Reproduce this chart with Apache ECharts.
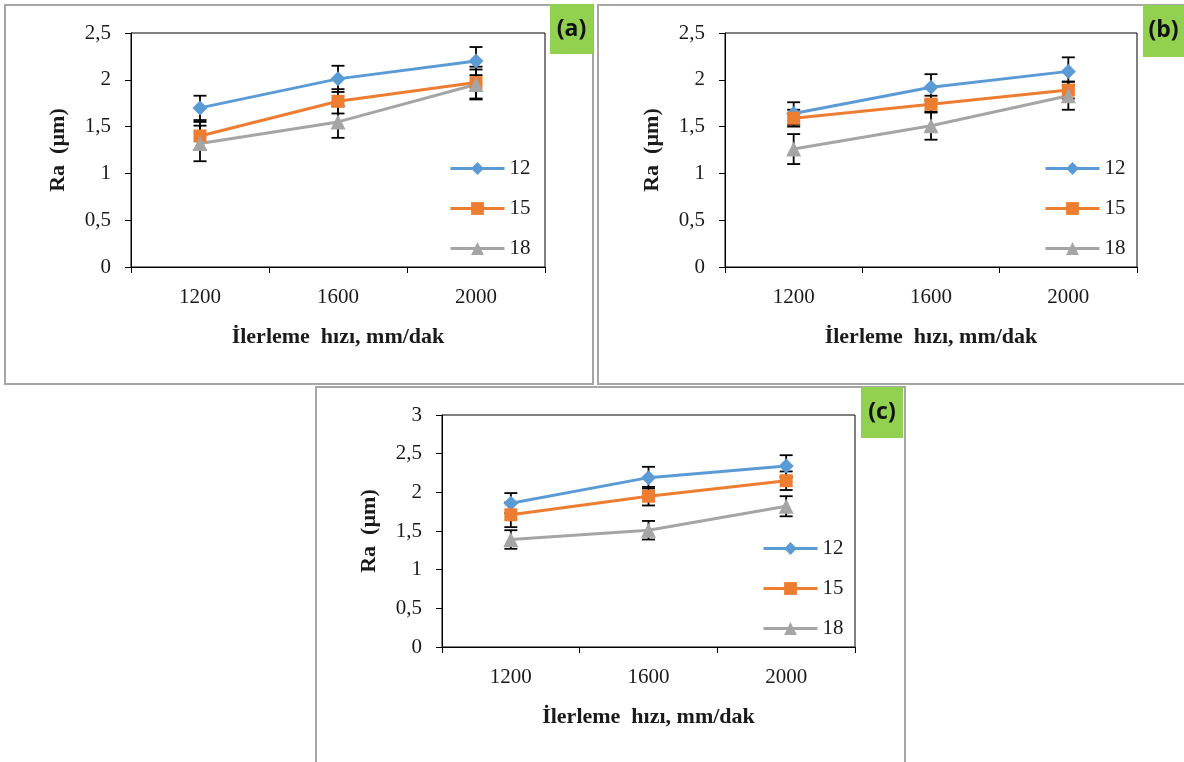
<!DOCTYPE html>
<html>
<head>
<meta charset="utf-8">
<script src="https://cdn.jsdelivr.net/npm/echarts@6/dist/echarts.min.js"></script>
<style>
html,body{margin:0;padding:0;background:#fff;}
#c{width:1184px;height:762px;}
</style>
</head>
<body>
<div id="c"></div>
<script>
// ---- data ----
const categories = ['1200', '1600', '2000'];
const seriesNames = ['12', '15', '18'];
const panelLabels = ['(a)', '(b)', '(c)'];
const yAxisTitle = 'Ra  (µm)';
const xAxisTitle = 'İlerleme  hızı, mm/dak';

// panel (a)
const a12 = [1.70, 2.01, 2.20];
const a15 = [1.40, 1.77, 1.97];
const a18 = [1.32, 1.55, 1.95];
const aErr12 = [0.13, 0.14, 0.15];
const aErr15 = [0.15, 0.13, 0.17];
const aErr18 = [0.19, 0.17, 0.16];
// panel (b)
const b12 = [1.64, 1.92, 2.09];
const b15 = [1.59, 1.74, 1.89];
const b18 = [1.26, 1.51, 1.83];
const bErr12 = [0.12, 0.14, 0.15];
const bErr15 = [0.09, 0.09, 0.09];
const bErr18 = [0.16, 0.15, 0.15];
// panel (c)
const c12 = [1.86, 2.19, 2.34];
const c15 = [1.71, 1.95, 2.15];
const c18 = [1.39, 1.51, 1.82];
const cErr12 = [0.13, 0.14, 0.14];
const cErr15 = [0.16, 0.12, 0.12];
const cErr18 = [0.12, 0.12, 0.13];
// y axis ranges
const yMaxAB = 2.5;
const yMaxC = 3;
const yStep = 0.5;

// ---- layout / style ----
const colors = ['#5B9BD5', '#ED7D31', '#A5A5A5'];
const symbols = ['diamond', 'rect', 'triangle'];
const symbolSizes = [15, 13, 15];
const serif = '"Liberation Serif", "Times New Roman", serif';
const textColor = '#1a1a1a';

const panels = [
  {vals: [a12, a15, a18], errs: [aErr12, aErr15, aErr18], yMax: yMaxAB,
   grid: {left: 131, top: 33, width: 414, height: 234},
   legend: {left: 444, top: 153},
   border: {x: 5, y: 5, w: 588, h: 379},
   tag: {x: 550, y: 4, w: 43, h: 50}},
  {vals: [b12, b15, b18], errs: [bErr12, bErr15, bErr18], yMax: yMaxAB,
   grid: {left: 725, top: 33, width: 412, height: 234},
   legend: {left: 1039, top: 153},
   border: {x: 598, y: 5, w: 590, h: 379},
   tag: {x: 1143, y: 5, w: 41, h: 52}},
  {vals: [c12, c15, c18], errs: [cErr12, cErr15, cErr18], yMax: yMaxC,
   grid: {left: 442, top: 415, width: 413, height: 232},
   legend: {left: 757, top: 533},
   border: {x: 316, y: 387, w: 589, h: 380},
   tag: {x: 861, y: 387, w: 42, h: 51}}
];

const grids = [], xAxes = [], yAxes = [], series = [], legends = [], graphics = [];

panels.forEach((p, pi) => {
  graphics.push({
    type: 'rect', z: -10,
    shape: {x: p.border.x, y: p.border.y, width: p.border.w, height: p.border.h},
    style: {fill: '#fff', stroke: '#a6a6a6', lineWidth: 2}
  });
  graphics.push({
    type: 'rect', z: 10,
    shape: {x: p.tag.x, y: p.tag.y, width: p.tag.w, height: p.tag.h},
    style: {fill: '#92D050'}
  });
  graphics.push({
    type: 'text', z: 11,
    x: p.tag.x + p.tag.w / 2, y: p.tag.y + 25,
    style: {text: panelLabels[pi], fill: '#111', font: 'bold 23px "Open Sans", "Liberation Sans", sans-serif',
            textAlign: 'center', textVerticalAlign: 'middle'}
  });

  grids.push(Object.assign({show: true, borderColor: '#000', borderWidth: 1, backgroundColor: 'transparent'}, p.grid));
  xAxes.push({
    type: 'category', gridIndex: pi, data: categories, boundaryGap: true,
    axisLine: {lineStyle: {color: '#000', width: 1}},
    axisTick: {show: true, length: 6, lineStyle: {color: '#000'}},
    axisLabel: {color: textColor, fontFamily: serif, fontSize: 21, margin: 20},
    name: xAxisTitle, nameLocation: 'middle', nameGap: 59,
    nameTextStyle: {color: textColor, fontFamily: serif, fontSize: 22, fontWeight: 'bold'},
    splitLine: {show: false}
  });
  yAxes.push({
    type: 'value', gridIndex: pi, min: 0, max: p.yMax, interval: yStep,
    axisLine: {show: true, lineStyle: {color: '#000', width: 1}},
    axisTick: {show: true, length: 6, lineStyle: {color: '#000'}},
    axisLabel: {color: textColor, fontFamily: serif, fontSize: 21, margin: 20,
                formatter: v => String(v).replace('.', ',')},
    name: yAxisTitle, nameLocation: 'middle', nameGap: 62, nameRotate: 90,
    nameTextStyle: {color: textColor, fontFamily: serif, fontSize: 22, fontWeight: 'bold'},
    splitLine: {show: false}
  });
  legends.push({
    orient: 'vertical', left: p.legend.left, top: p.legend.top,
    data: seriesNames, itemWidth: 54, itemHeight: 16, itemGap: 19,
    lineStyle: {width: 3},
    textStyle: {color: textColor, fontFamily: serif, fontSize: 21},
    selectedMode: false
  });

  seriesNames.forEach((nm, si) => {
    const vals = p.vals[si], errs = p.errs[si];
    series.push({
      type: 'custom', name: nm + '-err', xAxisIndex: pi, yAxisIndex: pi, z: 2, silent: true,
      data: vals.map((v, i) => [i, v, errs[i]]),
      renderItem: (params, api) => {
        const x = api.value(0), y = api.value(1), e = api.value(2);
        const t = api.coord([x, y + e]), b = api.coord([x, y - e]);
        const cap = 6.5;
        const st = {stroke: '#000', lineWidth: 1.8};
        return {type: 'group', children: [
          {type: 'line', shape: {x1: t[0], y1: t[1], x2: b[0], y2: b[1]}, style: st},
          {type: 'line', shape: {x1: t[0] - cap, y1: t[1], x2: t[0] + cap, y2: t[1]}, style: st},
          {type: 'line', shape: {x1: b[0] - cap, y1: b[1], x2: b[0] + cap, y2: b[1]}, style: st}
        ]};
      }
    });
    series.push({
      type: 'line', name: nm, xAxisIndex: pi, yAxisIndex: pi, z: 3,
      data: vals, symbol: symbols[si], symbolSize: symbolSizes[si],
      showAllSymbol: true, animation: false,
      lineStyle: {color: colors[si], width: 3},
      itemStyle: {color: colors[si], borderWidth: 0}
    });
  });
});

const chart = echarts.init(document.getElementById('c'), null, {renderer: 'canvas'});
chart.setOption({
  animation: false,
  color: colors,
  grid: grids, xAxis: xAxes, yAxis: yAxes,
  legend: legends, series: series,
  graphic: graphics
});
</script>
</body>
</html>
